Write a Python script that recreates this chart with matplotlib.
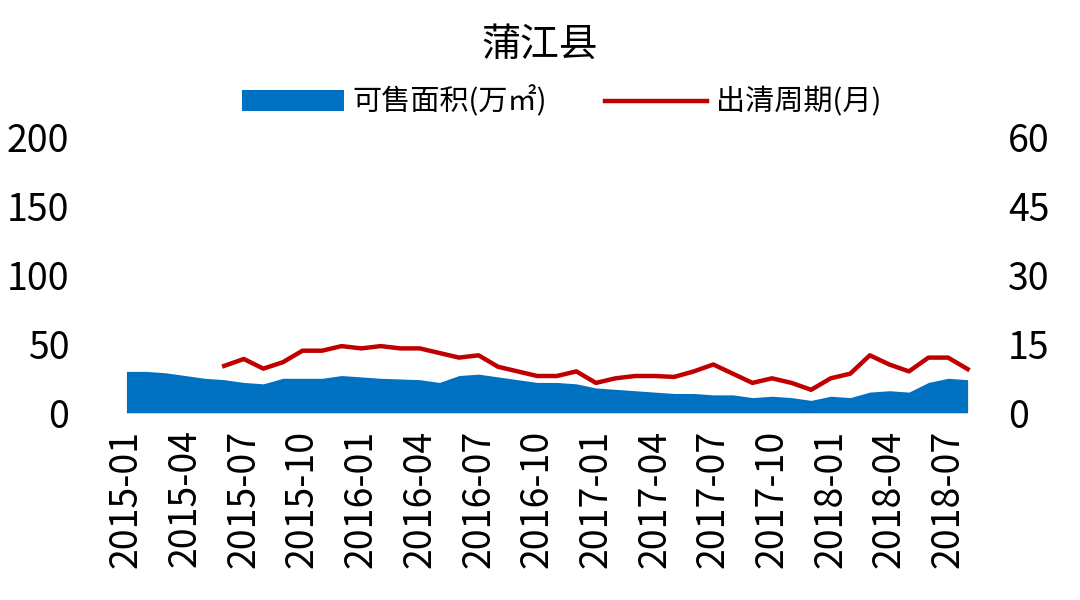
import matplotlib
matplotlib.use("Agg")
import matplotlib.pyplot as plt
import numpy as np
import pandas as pd

plt.rcParams['font.family'] = ['Noto Sans CJK SC', 'DejaVu Sans']

months = pd.date_range("2015-01", "2018-08", freq="MS").strftime("%Y-%m").tolist()
area = [30, 30, 29, 27, 25, 24, 22, 21, 25, 25, 25, 27,
        26, 25, 24.5, 24, 22, 27, 28, 26, 24, 22, 22, 21,
        18, 17, 16, 15, 14, 14, 13, 13, 11, 12, 11, 9,
        12, 11, 15, 16, 15, 22, 25, 24]
cycle = [None]*5 + [10.2, 11.7, 9.6, 11, 13.5, 13.5, 14.5,
        14, 14.5, 14, 14, 13, 12, 12.5, 10, 9, 8, 8, 9,
        6.5, 7.5, 8, 8, 7.8, 9, 10.5, 8.5, 6.5, 7.5, 6.5, 5,
        7.5, 8.5, 12.5, 10.5, 9, 12, 12, 9.5]

x = np.arange(len(months))
fig = plt.figure(figsize=(10.8, 6.0), dpi=100)
ax = fig.add_axes([0.108, 0.312, 0.797, 0.46])
ax.fill_between(x, area, color='#0070C0', label='可售面积(万㎡)', lw=0)
ax.set_ylim(0, 200)
ax.set_yticks([0, 50, 100, 150, 200])
ax.set_xlim(-0.5, len(months) - 0.5)
ax2 = ax.twinx()
cy = np.array([np.nan if v is None else v for v in cycle], dtype=float)
ax2.plot(x, cy, color='#C00000', lw=3.2, label='出清周期(月)')
ax2.set_ylim(0, 60)
ax2.set_yticks([0, 15, 30, 45, 60])
ax.set_xticks(x[::3])
ax.set_xticklabels(months[::3], rotation=90, fontsize=27)
for a in (ax, ax2):
    for s in a.spines.values():
        s.set_visible(False)
    a.tick_params(length=0, labelsize=27)
ax.tick_params(axis='y', pad=34)
ax.tick_params(axis='x', pad=12)
ax2.tick_params(axis='y', pad=22)
fig.text(0.5, 0.925, '蒲江县', ha='center', va='center', fontsize=28)
h1, l1 = ax.get_legend_handles_labels()
h2, l2 = ax2.get_legend_handles_labels()
fig.legend(h1 + h2, l1 + l2, loc='center', bbox_to_anchor=(0.52, 0.83), ncol=2,
           frameon=False, fontsize=21, handlelength=3.5, columnspacing=2, handletextpad=0.3)
fig.savefig("out.png")
